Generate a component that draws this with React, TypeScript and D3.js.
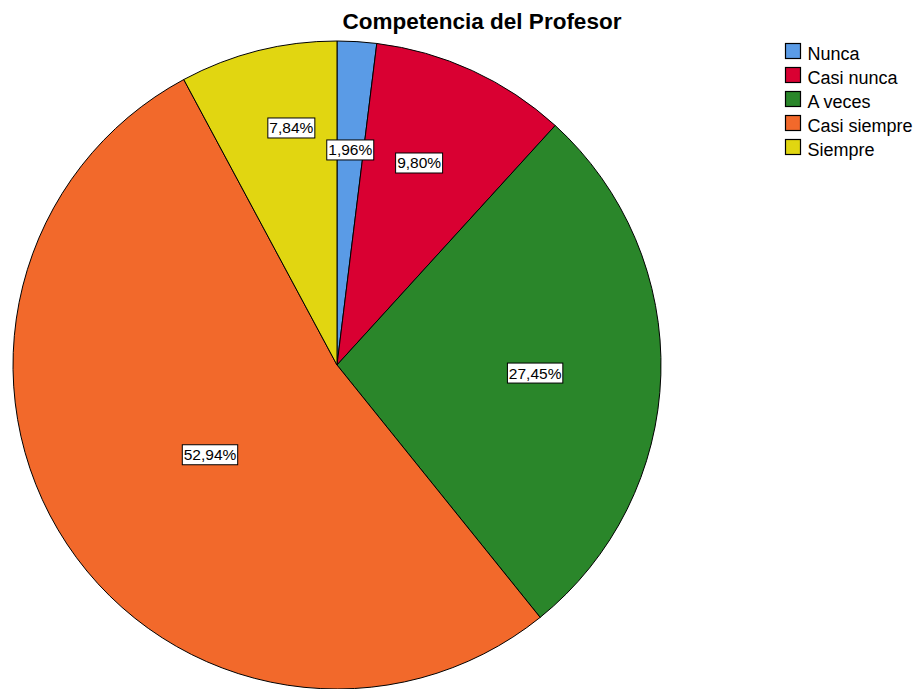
import React from "react";
import * as d3 from "d3";

const categories = ["Nunca", "Casi nunca", "A veces", "Casi siempre", "Siempre"];
const values = [1.96, 9.8, 27.45, 52.94, 7.84];
const labels = ["1,96%", "9,80%", "27,45%", "52,94%", "7,84%"];
const colors = ["#5A9BE6", "#D90032", "#2A862A", "#F2692B", "#E1D611"];
const labelRadiusFrac = [0.665, 0.673, 0.612, 0.48, 0.745];
const labelAngleShift = [0, -0.045, 0.01, -0.03, 0.056];

export default function App() {
  const W = 917, H = 689;
  const cx = 337, cy = 365, R = 324;
  const pie = d3.pie<number>().sort(null).value((d) => d);
  const arcs = pie(values);
  const arc = d3.arc<d3.PieArcDatum<number>>().innerRadius(0).outerRadius(R);
  const font = "'Liberation Sans', Arial, sans-serif";
  return (
    <svg width={W} height={H} style={{ position: "absolute", left: 0, top: 0 }}>
      <rect width={W} height={H} fill="#fff" />
      <text x={482} y={29} textAnchor="middle" fontFamily={font} fontWeight="bold" fontSize={22.5} fill="#000">
        Competencia del Profesor
      </text>
      <g transform={`translate(${cx},${cy})`}>
        {arcs.map((a, i) => (
          <path key={i} d={arc(a) || ""} fill={colors[i]} stroke="#000" strokeWidth={1} />
        ))}
        {arcs.map((a, i) => {
          const mid = (a.startAngle + a.endAngle) / 2 + labelAngleShift[i];
          const r = R * labelRadiusFrac[i];
          const x = Math.sin(mid) * r;
          const y = -Math.cos(mid) * r;
          const w = labels[i].length * 8.4 + 5;
          return (
            <g key={"l" + i} transform={`translate(${x},${y})`}>
              <rect x={-w / 2} y={-10} width={w} height={20} fill="#fff" stroke="#000" strokeWidth={1} />
              <text x={0} y={5.5} textAnchor="middle" fontFamily={font} fontSize={15.5} fill="#000">
                {labels[i]}
              </text>
            </g>
          );
        })}
      </g>
      <g>
        {categories.map((c, i) => (
          <g key={c} transform={`translate(785.5,${43.5 + i * 24})`}>
            <rect x={0} y={0} width={15} height={15} fill={colors[i]} stroke="#000" strokeWidth={1.2} />
            <text x={22} y={16} fontFamily={font} fontSize={18} fill="#000">
              {c}
            </text>
          </g>
        ))}
      </g>
    </svg>
  );
}
